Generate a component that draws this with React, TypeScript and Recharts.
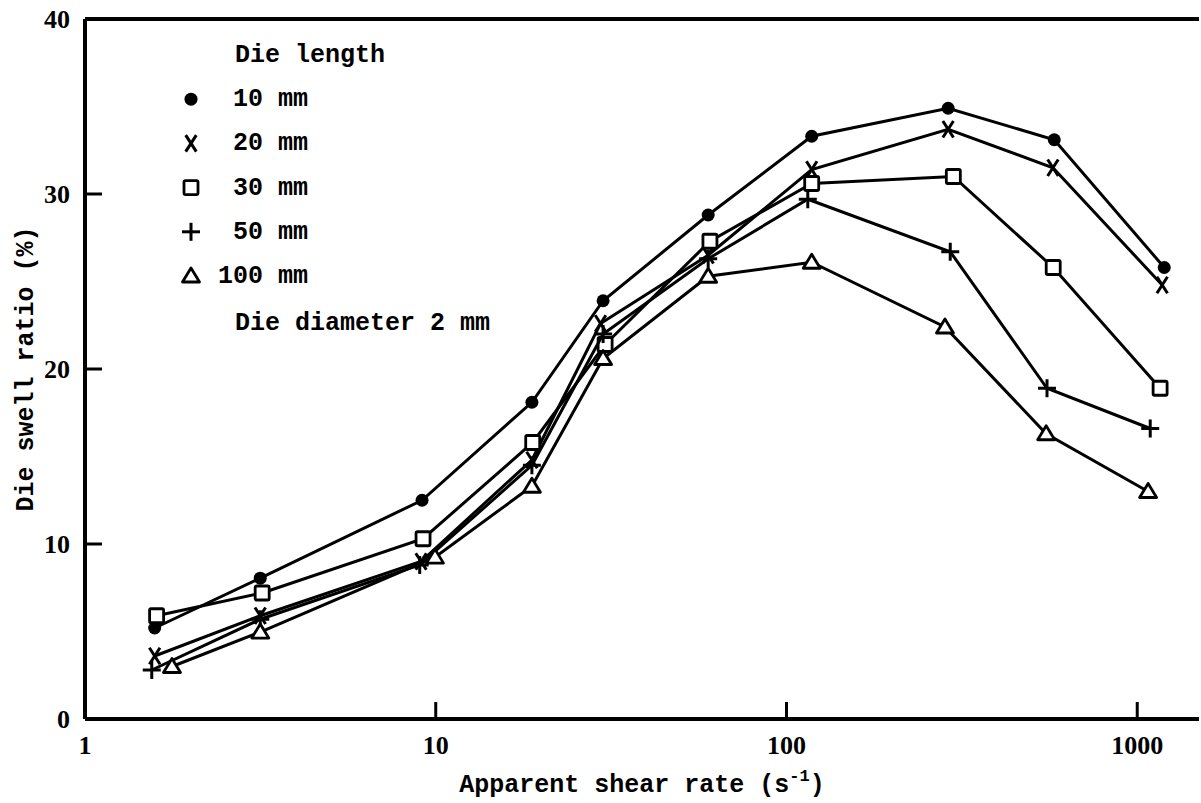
import React from 'react';
import { ScatterChart, Scatter, XAxis, YAxis, ReferenceLine } from 'recharts';

// ---- data ----
const xTicks = [1, 10, 100, 1000];
const yTicks = [0, 10, 20, 30, 40];

const rate10 = [1.58, 3.16, 9.14, 18.8, 30, 59.8, 118, 289, 580, 1194];
const swell10 = [5.2, 8.05, 12.5, 18.1, 23.9, 28.8, 33.3, 34.9, 33.1, 25.8];

const rate20 = [1.58, 3.16, 9.08, 18.8, 29.5, 59.8, 118, 289, 575, 1178];
const swell20 = [3.6, 5.9, 9.0, 14.8, 22.6, 26.5, 31.4, 33.7, 31.5, 24.8];

const rate30 = [1.6, 3.2, 9.2, 18.9, 30.4, 60.5, 118, 299, 576, 1162];
const swell30 = [5.9, 7.2, 10.3, 15.8, 21.4, 27.3, 30.6, 31.0, 25.8, 18.9];

const rate50 = [1.55, 3.16, 9.0, 18.8, 30, 59.8, 115, 293, 553, 1089];
const swell50 = [2.8, 5.7, 8.8, 14.5, 22.0, 26.3, 29.7, 26.7, 18.9, 16.6];

const rate100 = [1.77, 3.16, 9.95, 18.8, 30, 59.8, 118, 283, 550, 1074];
const swell100 = [3.0, 4.97, 9.25, 13.3, 20.6, 25.3, 26.1, 22.4, 16.3, 13.0];

const seriesLabels = ['10 mm', '20 mm', '30 mm', '50 mm', '100 mm'];
const seriesMarkers = ['circle', 'cross', 'square', 'plus', 'triangle'];

const build = (xs: number[], ys: number[]) => xs.map((x, i) => ({ x, y: ys[i] }));
const seriesData = [
  build(rate10, swell10),
  build(rate20, swell20),
  build(rate30, swell30),
  build(rate50, swell50),
  build(rate100, swell100),
];

const MONO = '"Liberation Mono", "DejaVu Sans Mono", monospace';
const SERIF = '"Liberation Serif", "DejaVu Serif", serif';

const Marker = ({ kind, cx, cy }: { kind: string; cx: number; cy: number }) => {
  switch (kind) {
    case 'circle':
      return <circle cx={cx} cy={cy} r={6.5} fill="#000" />;
    case 'cross':
      return (
        <g stroke="#000" strokeWidth={3} strokeLinecap="square">
          <line x1={cx - 4.5} y1={cy - 7} x2={cx + 4.5} y2={cy + 7} />
          <line x1={cx + 4.5} y1={cy - 7} x2={cx - 4.5} y2={cy + 7} />
        </g>
      );
    case 'square':
      return (
        <rect x={cx - 7} y={cy - 7} width={14} height={14} rx={1.5} fill="#fff" stroke="#000" strokeWidth={2.8} />
      );
    case 'plus':
      return (
        <g stroke="#000" strokeWidth={3}>
          <line x1={cx - 9} y1={cy} x2={cx + 9} y2={cy} />
          <line x1={cx} y1={cy - 9} x2={cx} y2={cy + 9} />
        </g>
      );
    default:
      return (
        <path
          d={`M${cx},${cy - 8} L${cx + 8.5},${cy + 6} L${cx - 8.5},${cy + 6} Z`}
          fill="#fff"
          stroke="#000"
          strokeWidth={2.8}
          strokeLinejoin="round"
        />
      );
  }
};

const YTick = (p: any) => {
  const { x, y, payload } = p;
  return (
    <g>
      <line x1={x} x2={x + 17} y1={y} y2={y} stroke="#000" strokeWidth={3} />
      <text x={x - 15} y={y} dy="0.36em" textAnchor="end" fontFamily={SERIF} fontWeight="bold" fontSize={26} fill="#000">
        {payload.value}
      </text>
    </g>
  );
};

const XTick = (p: any) => {
  const { x, y, payload } = p;
  return (
    <g>
      {payload.value !== 1 && <line x1={x} x2={x} y1={y} y2={y - 17} stroke="#000" strokeWidth={3} />}
      <text x={x} y={y + 17} dy="0.71em" textAnchor="middle" fontFamily={SERIF} fontWeight="bold" fontSize={26} fill="#000">
        {payload.value}
      </text>
    </g>
  );
};

const XTitle = (props: any) => {
  const vb = props.viewBox || {};
  return (
    <text x={vb.x + vb.width / 2} y={vb.y + 73} textAnchor="middle" fontFamily={MONO} fontWeight="bold" fontSize={25} fill="#000">
      Apparent shear rate (s
      <tspan dy={-11} fontSize={17}>-1</tspan>
      <tspan dy={11}>)</tspan>
    </text>
  );
};

const YTitle = (props: any) => {
  const vb = props.viewBox || {};
  const cx = vb.x - 1;
  const cy = vb.y + vb.height / 2;
  return (
    <text
      x={cx}
      y={cy}
      transform={`rotate(-90, ${cx}, ${cy})`}
      dy="0.36em"
      textAnchor="middle"
      fontFamily={MONO}
      fontWeight="bold"
      fontSize={25}
      fill="#000"
    >
      Die swell ratio (%)
    </text>
  );
};

const LegendOverlay = () => {
  const rowGap = 44.2;
  const firstBase = 62;
  return (
    <svg width={1201} height={803} style={{ position: 'absolute', left: 0, top: 0, pointerEvents: 'none' }}>
      <g fontFamily={MONO} fontWeight="bold" fontSize={25} fill="#000">
        <text x={235} y={firstBase}>Die length</text>
        {seriesLabels.map((lab, i) => {
          const base = firstBase + rowGap * (i + 1);
          return (
            <g key={lab}>
              <Marker kind={seriesMarkers[i]} cx={191} cy={base - 7} />
              <text x={308} y={base} textAnchor="end">{lab}</text>
            </g>
          );
        })}
        <text x={235} y={firstBase + rowGap * 6 + 3}>Die diameter 2 mm</text>
      </g>
    </svg>
  );
};

export default function App() {
  return (
    <div style={{ position: 'relative', width: 1201, height: 803, background: '#fff' }}>
      <style>{'body{margin:0;overflow:hidden;background:#fff}'}</style>
      <ScatterChart width={1201} height={803} margin={{ top: 19, right: 2, bottom: 24, left: 25 }}>
        <XAxis
          type="number"
          dataKey="x"
          scale="log"
          domain={[1, 1500]}
          ticks={xTicks}
          allowDataOverflow
          height={60}
          tickSize={0}
          tickMargin={0}
          tickLine={false}
          tick={<XTick />}
          axisLine={{ stroke: '#000', strokeWidth: 4 }}
          label={<XTitle />}
        />
        <YAxis
          type="number"
          dataKey="y"
          domain={[0, 40]}
          ticks={yTicks}
          width={60}
          tickSize={0}
          tickMargin={0}
          tickLine={false}
          tick={<YTick />}
          axisLine={{ stroke: '#000', strokeWidth: 4 }}
          label={<YTitle />}
        />
        <ReferenceLine y={40} stroke="#000" strokeWidth={4} />
        {seriesData.map((d, i) => (
          <Scatter
            key={seriesLabels[i]}
            name={seriesLabels[i]}
            data={d}
            isAnimationActive={false}
            line={{ stroke: '#000', strokeWidth: 3 }}
            lineType="joint"
            shape={(p: any) => <Marker kind={seriesMarkers[i]} cx={p.cx} cy={p.cy} />}
          />
        ))}
      </ScatterChart>
      <LegendOverlay />
    </div>
  );
}
